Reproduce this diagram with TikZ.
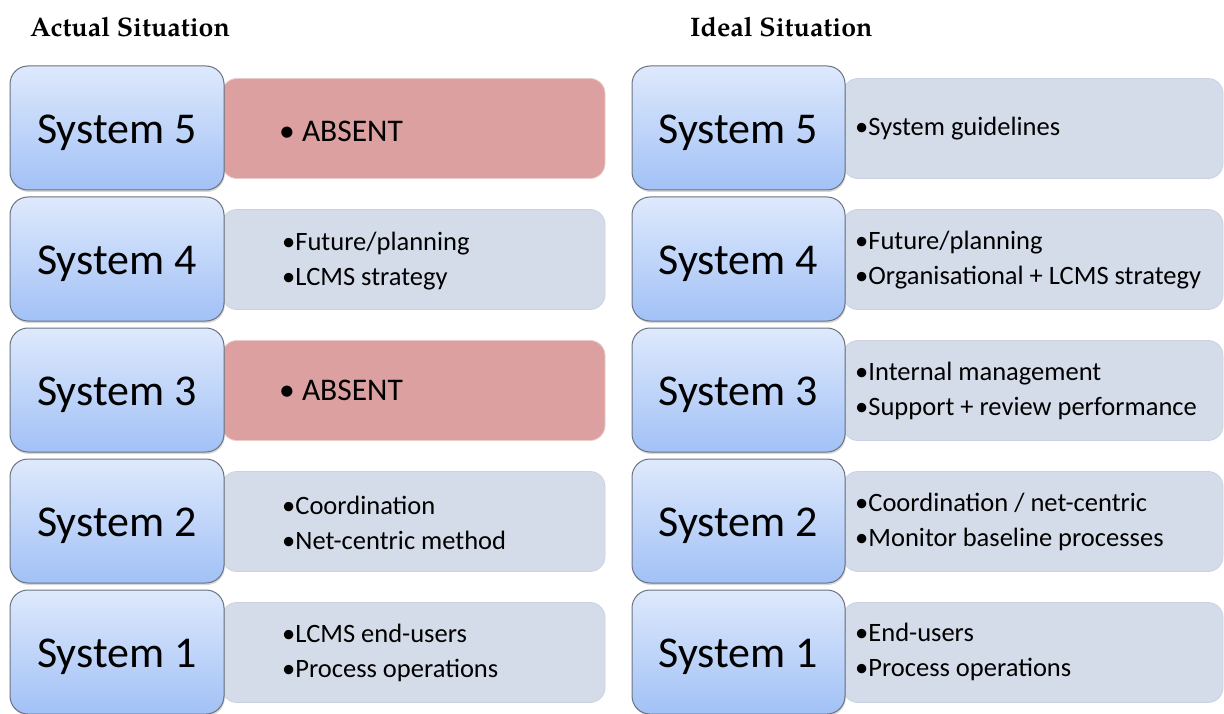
\documentclass[tikz,border=0pt]{standalone}
\usepackage{fontspec}
\setmainfont{Carlito}
\newfontfamily\headfont{TeX Gyre Pagella}
\usetikzlibrary{shadows}

\definecolor{sysTop}{RGB}{222,233,252}
\definecolor{sysBot}{RGB}{162,193,246}
\definecolor{sysEdge}{RGB}{105,115,130}
\definecolor{infoFill}{RGB}{213,220,233}
\definecolor{infoEdge}{RGB}{202,210,226}
\definecolor{absentFill}{RGB}{219,160,159}
\definecolor{absentEdge}{RGB}{232,204,204}

\begin{document}
\begin{tikzpicture}[x=1pt,y=-1pt,
  sysbox/.style={draw=sysEdge, line width=1pt, rounded corners=18pt,
    top color=sysTop, bottom color=sysBot,
    minimum width=214pt, minimum height=124pt, inner sep=0pt,
    text height=40pt, text depth=9pt,
    font=\fontsize{44}{50}\selectfont,
    drop shadow={shadow xshift=0.8pt, shadow yshift=-2pt, opacity=0.3}},
  infobox/.style={draw=infoEdge, line width=0.8pt, fill=infoFill,
    rounded corners=15pt, minimum width=383pt, minimum height=100pt,
    inner sep=0pt},
  absentbox/.style={infobox, fill=absentFill, draw=absentEdge},
  bullets/.style={anchor=west, align=left, inner sep=0pt,
    font=\fontsize{26.5}{35}\selectfont},
  absenttext/.style={anchor=west, inner sep=0pt,
    font=\fontsize{31.5}{36}\selectfont},
  heading/.style={anchor=base west, inner sep=0pt,
    font=\headfont\bfseries\fontsize{26.8}{30}\selectfont}]

% page
\fill[white] (0,0) rectangle (1224,714);
\path[use as bounding box] (0,0) rectangle (1224,714);

% column headings
\node[heading] (hAct) at (30,37) {Actual Situation};
\node[heading] (hIdl) at (690,37) {Ideal Situation};

% ---- actual situation: description bars ----
\node[absentbox] (a5) at (413.5,128.5) {};
\node[infobox]   (a4) at (413.5,259.5) {};
\node[absentbox] (a3) at (413.5,390.5) {};
\node[infobox]   (a2) at (413.5,521.5) {};
\node[infobox]   (a1) at (413.5,652.5) {};

% ---- ideal situation: description bars ----
\node[infobox, minimum width=380pt] (i5) at (1033,128.5) {};
\node[infobox, minimum width=380pt] (i4) at (1033,259.5) {};
\node[infobox, minimum width=380pt] (i3) at (1033,390.5) {};
\node[infobox, minimum width=380pt] (i2) at (1033,521.5) {};
\node[infobox, minimum width=380pt] (i1) at (1033,652.5) {};

% ---- system boxes ----
\node[sysbox] (sa5) at (117,128) {System 5};
\node[sysbox] (sa4) at (117,259) {System 4};
\node[sysbox] (sa3) at (117,390) {System 3};
\node[sysbox] (sa2) at (117,521) {System 2};
\node[sysbox] (sa1) at (117,652) {System 1};

\node[sysbox, minimum width=213pt] (si5) at (738.5,128) {System 5};
\node[sysbox, minimum width=213pt] (si4) at (738.5,259) {System 4};
\node[sysbox, minimum width=213pt] (si3) at (738.5,390) {System 3};
\node[sysbox, minimum width=213pt] (si2) at (738.5,521) {System 2};
\node[sysbox, minimum width=213pt] (si1) at (738.5,652) {System 1};

% ---- actual situation: texts ----
\node[absenttext] (ta5) at (279,131) {• ABSENT};
\node[bullets] (ta4) at (282,261.5) {•Future/planning\\•LCMS strategy};
\node[absenttext] (ta3) at (279,390) {• ABSENT};
\node[bullets] (ta2) at (282,522.5) {•Coordination\\•Net-centric method};
\node[bullets] (ta1) at (282,652.5) {•LCMS end-users\\•Process operations};

% ---- ideal situation: texts ----
\node[bullets] (ti5) at (855,129) {•System guidelines};
\node[bullets] (ti4) at (855,260) {•Future/planning\\•Organisational + LCMS strategy};
\node[bullets] (ti3) at (855,391) {•Internal management\\•Support + review performance};
\node[bullets] (ti2) at (855,522) {•Coordination / net-centric\\•Monitor baseline processes};
\node[bullets] (ti1) at (855,652) {•End-users\\•Process operations};
\end{tikzpicture}
\end{document}
